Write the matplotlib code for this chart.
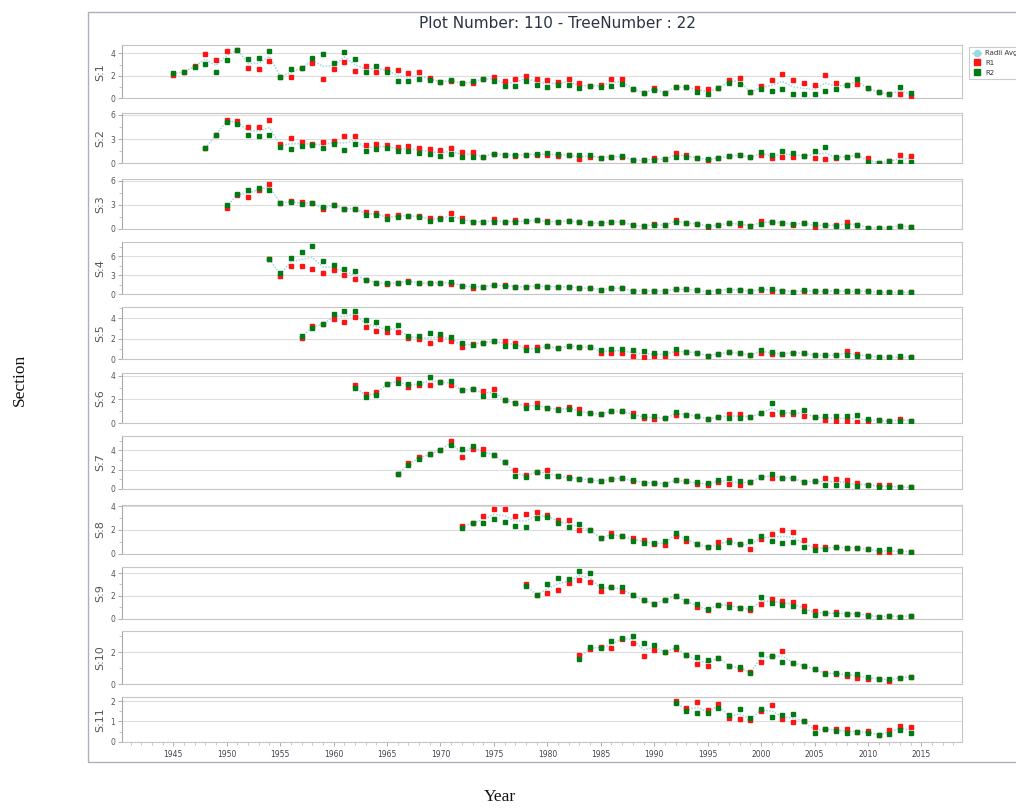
import numpy as np
import matplotlib
matplotlib.use("Agg")
import matplotlib.pyplot as plt
from matplotlib.lines import Line2D
from matplotlib.patches import Rectangle
from matplotlib.ticker import MultipleLocator, AutoMinorLocator

# ---------------- data ----------------
section_names = ["S:1", "S:2", "S:3", "S:4", "S:5", "S:6", "S:7", "S:8", "S:9", "S:10", "S:11"]
start_years = [1945, 1948, 1950, 1954, 1957, 1962, 1966, 1972, 1978, 1983, 1992]

s1_r1 = [2.07, 2.37, 2.9, 3.94, 3.44, 4.24, 4.3, 2.7, 2.64, 3.29,
         1.93, 1.93, 2.7, 3.1, 1.75, 2.64, 3.26, 2.46, 2.84, 2.37,
         2.64, 2.52, 2.22, 2.31, 1.8, 1.48, 1.51, 1.33, 1.33, 1.72,
         1.93, 1.54, 1.75, 1.99, 1.75,
         1.6, 1.48, 1.75, 1.33, 1.13, 1.19, 1.75, 1.69, 0.86, 0.5,
         0.89, 0.5, 1.0, 1.0, 0.95, 0.83, 0.89, 1.63, 1.8, 0.53,
         1.1, 1.63, 2.19, 1.63, 1.33, 1.16, 2.07, 1.33, 1.19, 1.27,
         0.89, 0.53, 0.38, 0.36, 0.24]
s1_r2 = [2.28, 2.37, 2.76, 3.02, 2.37, 3.38, 4.3, 3.5, 3.6, 4.18,
         1.93, 2.64, 2.7, 3.6, 3.94, 3.14, 4.09, 3.5, 2.37, 2.9,
         2.37, 1.51, 1.51, 1.75, 1.6, 1.48, 1.6, 1.33, 1.54, 1.72,
         1.51, 1.1, 1.13, 1.54, 1.21,
         0.98, 1.21, 1.21, 0.92, 1.13, 1.04, 1.07, 1.27, 0.86, 0.5,
         0.71, 0.5, 1.0, 1.0, 0.56, 0.36, 0.89, 1.39, 1.27, 0.53,
         0.83, 0.68, 0.8, 0.41, 0.41, 0.41, 0.65, 0.8, 1.19, 1.72,
         0.89, 0.53, 0.38, 0.98, 0.5]

s2_r1 = [1.86, 3.56, 5.34, 5.3, 4.55, 4.55, 5.38,
         2.4, 3.1, 2.69, 2.44, 2.69, 2.77, 3.35, 3.35, 2.28, 2.44,
         2.28, 2.07, 2.19, 1.94, 1.74, 1.65, 1.86, 1.41, 1.45, 0.83,
         1.2, 1.03, 0.95, 1.08, 1.03,
         0.99, 0.95, 0.99, 0.58, 0.83, 0.7, 0.83, 0.74, 0.41, 0.37,
         0.62, 0.5, 1.28, 0.99, 0.7, 0.37, 0.66, 0.87, 1.03, 0.74,
         1.08, 0.7, 0.79, 0.83, 0.91, 0.66, 0.54, 0.62, 0.83, 0.99,
         0.62, 0.08, 0.25, 1.03, 0.95]
s2_r2 = [1.86, 3.56, 5.17, 4.88, 3.56, 3.43, 3.48,
         2.03, 1.74, 2.19, 2.32, 1.86, 2.44, 1.65, 2.36, 1.49, 1.74,
         1.86, 1.49, 1.49, 1.32, 1.16, 0.91, 1.16, 0.74, 0.83, 0.83,
         1.2, 1.03, 1.08, 1.08, 1.2,
         1.24, 1.2, 0.99, 1.03, 1.08, 0.7, 0.83, 0.91, 0.41, 0.37,
         0.46, 0.5, 0.83, 0.83, 0.7, 0.5, 0.66, 0.87, 1.03, 0.74,
         1.37, 1.08, 1.49, 1.28, 0.91, 1.57, 1.99, 0.83, 0.83, 0.99,
         0.12, 0.08, 0.25, 0.12, 0.21]

s3_r1 = [2.61, 4.18, 3.93, 4.8, 5.59,
         3.23, 3.43, 3.31, 3.23, 2.44, 2.94, 2.52, 2.48, 2.07, 1.94,
         1.65, 1.74, 1.65, 1.61, 1.41, 1.41, 1.94, 1.41, 0.91, 0.87,
         1.2, 0.87, 1.08, 0.95, 1.08,
         0.99, 0.91, 1.03, 0.83, 0.74, 0.7, 0.87, 0.87, 0.46, 0.33,
         0.66, 0.46, 1.08, 0.7, 0.66, 0.25, 0.5, 0.7, 0.54, 0.41,
         0.99, 0.87, 0.74, 0.54, 0.74, 0.25, 0.46, 0.54, 0.87, 0.54,
         0.17, 0.12, 0.17, 0.37, 0.25]
s3_r2 = [2.94, 4.39, 4.88, 5.05, 4.8,
         3.23, 3.31, 3.06, 3.23, 2.73, 3.02, 2.52, 2.48, 1.78, 1.78,
         1.28, 1.45, 1.65, 1.45, 1.03, 1.2, 1.28, 1.03, 0.91, 0.87,
         0.91, 0.87, 0.87, 0.95, 1.08,
         0.83, 0.91, 1.03, 0.83, 0.74, 0.7, 0.87, 0.87, 0.46, 0.33,
         0.46, 0.46, 0.91, 0.7, 0.66, 0.41, 0.5, 0.7, 0.7, 0.41,
         0.62, 0.87, 0.74, 0.62, 0.74, 0.66, 0.46, 0.41, 0.41, 0.54,
         0.17, 0.12, 0.17, 0.37, 0.29]

s4_r1 = [5.52,
         2.92, 4.41, 4.41, 3.98, 3.29, 3.77, 3.08, 2.39, 2.28, 1.81,
         1.54, 1.81, 2.12, 1.7, 1.7, 1.81, 1.65, 1.33, 1.01, 1.17,
         1.38, 1.38, 1.17, 1.12, 1.27,
         1.17, 1.12, 1.17, 0.96, 0.9, 0.69, 0.9, 0.9, 0.48, 0.48,
         0.48, 0.48, 0.74, 0.74, 0.58, 0.32, 0.53, 0.69, 0.69, 0.42,
         0.64, 0.53, 0.53, 0.37, 0.42, 0.42, 0.42, 0.48, 0.42, 0.42,
         0.42, 0.27, 0.27, 0.27, 0.27]
s4_r2 = [5.52,
         3.35, 5.74, 6.59, 7.65, 5.31, 4.67, 3.98, 3.66, 2.28, 1.81,
         1.75, 1.81, 1.96, 1.81, 1.7, 1.81, 1.86, 1.33, 1.22, 1.17,
         1.38, 1.22, 1.17, 1.12, 1.27,
         1.17, 1.12, 1.17, 0.96, 0.9, 0.69, 0.95, 0.9, 0.48, 0.48,
         0.48, 0.48, 0.74, 0.74, 0.58, 0.32, 0.53, 0.69, 0.69, 0.42,
         0.8, 0.8, 0.53, 0.37, 0.58, 0.42, 0.42, 0.48, 0.42, 0.42,
         0.42, 0.27, 0.27, 0.27, 0.27]

s5_r1 = [2.08, 3.22, 3.41, 3.9, 3.67, 4.1, 3.12, 2.73,
         2.67, 2.67, 2.08, 1.95, 1.56, 1.95, 1.76, 1.24, 1.53, 1.63,
         1.76, 1.76, 1.63, 1.2, 1.17,
         1.27, 1.07, 1.33, 1.17, 1.24, 0.65, 0.65, 0.65, 0.36, 0.26,
         0.36, 0.29, 0.59, 0.72, 0.65, 0.36, 0.52, 0.68, 0.59, 0.42,
         0.65, 0.52, 0.52, 0.65, 0.59, 0.39, 0.39, 0.39, 0.85, 0.49,
         0.33, 0.2, 0.2, 0.16, 0.23]
s5_r2 = [2.24, 3.09, 3.41, 4.46, 4.72, 4.72, 3.8, 3.67,
         3.09, 3.35, 2.31, 2.28, 2.54, 2.47, 2.18, 1.56, 1.4, 1.63,
         1.76, 1.3, 1.3, 0.91, 0.91,
         1.27, 1.07, 1.33, 1.17, 1.24, 0.88, 1.01, 1.01, 0.88, 0.81,
         0.65, 0.65, 0.98, 0.72, 0.65, 0.36, 0.52, 0.68, 0.59, 0.42,
         0.91, 0.72, 0.52, 0.65, 0.59, 0.39, 0.39, 0.39, 0.42, 0.36,
         0.33, 0.2, 0.2, 0.29, 0.23]

s6_r1 = [3.21, 2.5, 2.64,
         3.32, 3.72, 3.09, 3.23, 3.26, 3.49, 3.21, 2.81, 2.87, 2.75,
         2.87, 1.96, 1.7, 1.56, 1.7,
         1.3, 1.22, 1.33, 1.19, 0.82, 0.77, 0.99, 0.99, 0.85, 0.45,
         0.34, 0.4, 0.68, 0.71, 0.57, 0.34, 0.51, 0.77, 0.77, 0.54,
         0.82, 0.77, 0.77, 0.79, 0.57, 0.51, 0.28, 0.2, 0.17, 0.11,
         0.17, 0.23, 0.14, 0.34, 0.2]
s6_r2 = [3.01, 2.18, 2.35,
         3.32, 3.38, 3.32, 3.43, 3.94, 3.49, 3.57, 2.81, 2.87, 2.33,
         2.38, 1.96, 1.7, 1.28, 1.33,
         1.3, 1.11, 1.16, 0.88, 0.82, 0.77, 0.99, 0.99, 0.6, 0.57,
         0.57, 0.4, 0.91, 0.71, 0.57, 0.34, 0.51, 0.4, 0.4, 0.54,
         0.82, 1.73, 0.96, 0.91, 1.11, 0.51, 0.6, 0.6, 0.6, 0.65,
         0.34, 0.23, 0.14, 0.2, 0.2]

s7_r1 = [1.55, 2.66, 3.31, 3.59, 4.07, 5.0, 3.28, 4.14, 4.1,
         3.48, 2.76, 2.0, 1.45, 1.76,
         2.0, 1.34, 1.21, 1.07, 0.93, 0.83, 1.0, 1.1, 0.79, 0.66,
         0.62, 0.52, 0.93, 0.79, 0.55, 0.38, 0.72, 0.55, 0.38, 0.76,
         1.24, 1.17, 1.14, 1.14, 0.69, 0.79, 1.1, 1.03, 0.9, 0.62,
         0.45, 0.38, 0.38, 0.21, 0.17]
s7_r2 = [1.55, 2.45, 3.1, 3.59, 4.07, 4.52, 4.14, 4.48, 3.62,
         3.48, 2.76, 1.38, 1.24, 1.76,
         1.31, 1.34, 1.14, 1.07, 0.93, 0.83, 1.0, 1.1, 0.97, 0.66,
         0.62, 0.52, 0.93, 0.79, 0.69, 0.66, 0.9, 1.14, 0.83, 0.76,
         1.24, 1.52, 1.14, 1.14, 0.69, 0.79, 0.45, 0.45, 0.45, 0.31,
         0.45, 0.17, 0.17, 0.21, 0.17]

s8_r1 = [2.35, 2.6, 3.13,
         3.72, 3.75, 3.19, 3.3, 3.47,
         3.24, 2.85, 2.8, 2.01, 1.96, 1.31, 1.71, 1.45, 1.34, 1.15,
         0.78, 0.76, 1.45, 1.09, 0.81, 0.56, 0.98, 1.15, 0.78, 0.42,
         1.23, 1.62, 2.01, 1.79, 1.15, 0.64, 0.59, 0.53, 0.5, 0.5,
         0.36, 0.14, 0.14, 0.2, 0.17]
s8_r2 = [2.13, 2.6, 2.57,
         2.91, 2.63, 2.29, 2.21, 2.97,
         3.1, 2.57, 2.24, 2.46, 1.96, 1.31, 1.51, 1.45, 1.09, 0.92,
         0.92, 1.03, 1.76, 1.34, 0.81, 0.56, 0.59, 0.95, 0.78, 1.06,
         1.51, 1.09, 0.9, 0.95, 0.53, 0.31, 0.36, 0.53, 0.5, 0.5,
         0.36, 0.31, 0.36, 0.2, 0.17]

s9_r1 = [3.0, 2.07,
         2.28, 2.54, 3.09, 3.36, 3.18, 2.45, 2.74, 2.45, 2.04, 1.61,
         1.31, 1.66, 1.99, 1.52, 0.99, 0.73, 1.2, 1.31, 0.96, 0.73,
         1.28, 1.69, 1.52, 1.46, 1.11, 0.7, 0.5, 0.55, 0.44, 0.44,
         0.35, 0.18, 0.26, 0.18, 0.26]
s9_r2 = [2.86, 2.07,
         3.0, 3.59, 3.45, 4.2, 3.97, 2.86, 2.74, 2.74, 2.04, 1.61,
         1.31, 1.66, 1.99, 1.52, 1.31, 0.85, 1.2, 1.05, 0.96, 0.93,
         1.87, 1.34, 1.23, 1.14, 0.7, 0.35, 0.5, 0.39, 0.44, 0.44,
         0.26, 0.18, 0.2, 0.18, 0.26]

s10_r1 = [1.81, 2.19, 2.36, 2.27, 2.82, 2.57, 1.75,
          2.13, 2.04, 2.19, 1.85, 1.26, 1.16, 1.66, 1.16, 0.95, 0.78,
          1.41, 1.75, 2.1, 1.35, 1.14, 0.93, 0.72, 0.61, 0.53, 0.4,
          0.32, 0.34, 0.21, 0.4, 0.46]
s10_r2 = [1.56, 2.32, 2.27, 2.69, 2.91, 3.05, 2.57,
          2.48, 2.04, 2.36, 1.85, 1.68, 1.49, 1.66, 1.16, 1.07, 0.67,
          1.89, 1.75, 1.41, 1.35, 1.14, 0.93, 0.63, 0.72, 0.65, 0.61,
          0.46, 0.34, 0.32, 0.4, 0.46]

s11_r1 = [2.0, 1.66, 1.97, 1.54, 1.85, 1.18, 1.13, 1.07,
          1.49, 1.82, 1.1, 0.95, 1.0, 0.72, 0.61, 0.64, 0.61, 0.49,
          0.52, 0.33, 0.56, 0.79, 0.72]
s11_r2 = [1.9, 1.49, 1.43, 1.43, 1.66, 1.34, 1.62, 1.18,
          1.62, 1.2, 1.34, 1.39, 1.0, 0.43, 0.61, 0.52, 0.43, 0.49,
          0.43, 0.33, 0.39, 0.57, 0.41]

r1_series = [s1_r1, s2_r1, s3_r1, s4_r1, s5_r1, s6_r1, s7_r1, s8_r1, s9_r1, s10_r1, s11_r1]
r2_series = [s1_r2, s2_r2, s3_r2, s4_r2, s5_r2, s6_r2, s7_r2, s8_r2, s9_r2, s10_r2, s11_r2]

x_tick_years = list(range(1945, 2016, 5))
title_text = "Plot Number: 110 - TreeNumber : 22"

# ---------------- layout (pixels) ----------------
W, H = 1016, 811
panel_px = [(45, 98.3), (112.5, 163.3), (179, 229), (241.7, 294), (306.7, 359.3),
            (372.7, 423), (436, 489), (504.7, 553.7), (566.7, 618.7), (631, 684),
            (697.3, 741.7)]
y_max = [4.74, 6.3, 6.2, 8.3, 5.13, 4.28, 5.48, 4.12, 4.56, 3.34, 2.19]
y_step = [2, 3, 3, 3, 2, 2, 2, 2, 2, 2, 1]
x_left_px, x_right_px = 122, 962

fig = plt.figure(figsize=(W / 100, H / 100), dpi=100)
fig.patch.set_facecolor("white")

# outer frame
fig.add_artist(Rectangle((88 / W, 1 - 762 / H), (1040 - 88) / W, (762 - 12) / H,
                         transform=fig.transFigure, facecolor="none",
                         edgecolor="#aab0bc", lw=1.0, clip_on=False))

RED = "#ff1414"
GREEN = "#007a12"
AVG = "#9fd6e4"
spine_c = "#c6c6c6"

for i in range(11):
    top, bot = panel_px[i]
    ax = fig.add_axes([x_left_px / W, 1 - bot / H, (x_right_px - x_left_px) / W, (bot - top) / H])
    years = np.arange(start_years[i], start_years[i] + len(r1_series[i]))
    r1 = np.array(r1_series[i])
    r2 = np.array(r2_series[i])
    avg = (r1 + r2) / 2
    ax.plot(years, avg, color=AVG, lw=1.1, ls=(0, (1, 1)), zorder=2)
    ax.plot(years, r1, ls="none", marker="s", ms=2.2, color=RED, mec=RED, zorder=3)
    ax.plot(years, r2, ls="none", marker="s", ms=2.2, color=GREEN, mec=GREEN, zorder=4)
    ax.set_xlim(1940.2, 2018.8)
    ax.set_ylim(0, y_max[i])
    ax.yaxis.set_major_locator(MultipleLocator(y_step[i]))
    ax.yaxis.set_minor_locator(AutoMinorLocator(2))
    ax.grid(axis="y", which="major", color="#dedede", lw=0.8)
    ax.set_axisbelow(True)
    for s in ax.spines.values():
        s.set_color(spine_c)
        s.set_linewidth(0.8)
    ax.spines["left"].set_color("#a8a8a8")
    ax.tick_params(axis="y", which="major", labelsize=5.5, labelcolor="#555555",
                   color="#a0a0a0", length=3, width=0.6, pad=2)
    ax.tick_params(axis="y", which="minor", color="#b0b0b0", length=2, width=0.5)
    if i < 10:
        ax.tick_params(axis="x", which="both", bottom=False, labelbottom=False)
    else:
        ax.set_xticks(x_tick_years)
        ax.xaxis.set_minor_locator(MultipleLocator(1))
        ax.tick_params(axis="x", which="major", labelsize=5.5, labelcolor="#444444",
                       color="#a0a0a0", length=3, width=0.6, pad=3)
        ax.tick_params(axis="x", which="minor", color="#b0b0b0", length=2, width=0.5)
    fig.text(100 / W, 1 - (top + bot) / 2 / H, section_names[i], rotation=90,
             ha="center", va="center", fontsize=8, color="#555555")

# title
fig.text(557 / W, 1 - 24 / H, title_text, ha="center", va="center",
         fontsize=11, color="#2b3340")

# outer axis labels
fig.text(20 / W, 1 - 380 / H, "Section", rotation=90, ha="center", va="center",
         fontsize=12.5, family="Liberation Serif", color="#111111")
fig.text(500 / W, 1 - 797 / H, "Year", ha="center", va="center",
         fontsize=12.5, family="Liberation Serif", color="#111111")

# legend
handles = [Line2D([0], [0], color=AVG, lw=1, marker="o", ms=4.5, mfc=AVG, mec=AVG),
           Line2D([0], [0], ls="none", marker="s", ms=5, color=RED),
           Line2D([0], [0], ls="none", marker="s", ms=5, color=GREEN)]
leg = fig.legend(handles, ["Radii Avg", "R1", "R2"], loc="upper left",
                 bbox_to_anchor=(969 / W, 1 - 46.5 / H), fontsize=5,
                 frameon=True, fancybox=False, edgecolor="#c0c0c0",
                 handlelength=1.2, handletextpad=0.6, borderpad=0.5,
                 labelspacing=0.55, borderaxespad=0)
leg.get_frame().set_linewidth(0.8)
for t in leg.get_texts():
    t.set_color("#333333")

fig.savefig("out.png", dpi=100, facecolor="white")
